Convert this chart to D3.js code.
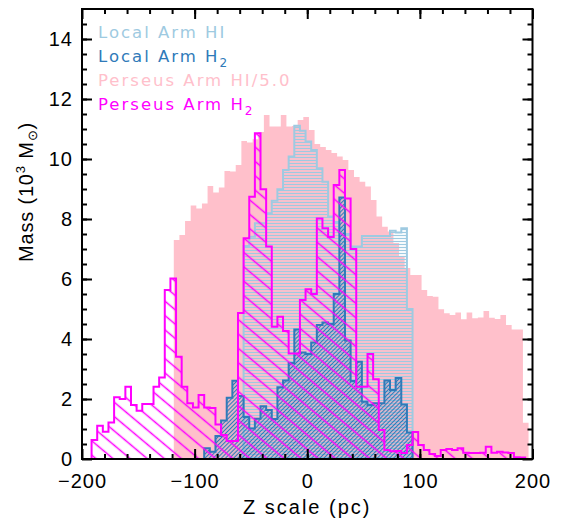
<!DOCTYPE html>
<html>
<head>
<meta charset="utf-8">
<script src="https://cdn.jsdelivr.net/npm/d3@7"></script>
<style>
body { margin: 0; background: #fff; }
text { font-family: "Liberation Sans", Arial, sans-serif; }
</style>
</head>
<body>
<div class="chart"></div>
<script>

// histogram bin width in pc; each series: left edge of first bin + bin values (10^3 Msun)
var binWidth = 5;

var perseusHIStart = -118.5;   // Perseus Arm HI / 5.0
var perseusHI = [7.3, 7.47, 7.93, 8.45, 8.35, 8.52, 9.1, 8.88, 9.05, 9.6,
  9.58, 9.8, 10.6, 10.55, 10.66, 10.9, 11.47, 11.08, 11.08, 11.47,
  11.08, 11.1, 11.3, 11.4, 10.97, 10.5, 10.4, 10.3, 10.2, 10.08,
  9.97, 9.63, 9.4, 9.24, 9.08, 8.63, 8.08, 7.74, 7.58, 7.2,
  6.75, 6.37, 6.13, 6.13, 5.63, 5.43, 5.41, 4.99, 4.86, 4.8,
  4.88, 4.66, 4.88, 4.69, 4.72, 4.93, 4.71, 4.67, 4.8, 4.47,
  4.32, 4.32, 1.21];

var localHIStart = -56.5;      // Local Arm HI
var localHI = [7.1, 7.41, 7.86, 7.86, 8.19, 8.61, 8.99, 9.63, 10.08, 11.11,
  10.94, 10.58, 10.3, 9.69, 9.24, 8.08, 7.9, 7.7, 7.5, 7.08,
  7.08, 7.43, 7.43, 7.43, 7.43, 7.43, 7.61, 7.55, 7.69, 5.0];

var localH2Start = -91.5;      // Local Arm H2
var localH2 = [0.36, 0.24, 0.77, 1.28, 2.04, 2.61, 2.1, 1.4, 1.02, 1.34,
  1.76, 1.63, 1.33, 2.39, 2.62, 3.2, 4.32, 3.55, 3.5, 3.88,
  4.47, 4.55, 4.5, 5.5, 8.72, 3.95, 2.6, 3.24, 1.91, 1.8,
  1.86, 1.86, 2.62, 2.3, 2.7, 1.82, 0.88];

var perseusH2Start = -191.5;   // Perseus Arm H2
var perseusH2 = [0.63, 1.11, 0.91, 1.22, 2.06, 2.0, 2.41, 1.8, 1.61, 1.83,
  1.83, 2.41, 2.72, 5.63, 6.02, 3.41, 2.41, 1.86, 1.72, 2.13,
  1.72, 1.7, 1.15, 0.8, 0.6, 0.6, 4.87, 7.36, 8.74, 10.86,
  8.99, 7.08, 4.41, 4.74, 4.27, 3.52, 3.52, 5.3, 5.66, 5.5,
  8.02, 7.69, 7.4, 9.13, 9.63, 8.68, 7.0, 2.41, 2.41, 3.5,
  2.66, 0.97, 0.3, 0.26, 0.27, 0.2, 0.47, 0.9, 0.47, 0.3,
  0.17, 0.1, 0.3, 0.33, 0.3, 0.36, 0.21, 0.2, 0.2, 0.21,
  0.41, 0.21, 0.24, 0.22, 0.2, 0.06, 0.05];

var xTicks = [-200, -100, 0, 100, 200];
var yTicks = [0, 2, 4, 6, 8, 10, 12, 14];

var legendItems = [
  {label: "Local Arm HI", sub: "", color: "#9ecae1"},
  {label: "Local Arm H", sub: "2", color: "#2f7ab9"},
  {label: "Perseus Arm HI/5.0", sub: "", color: "#ffc0cb"},
  {label: "Perseus Arm H", sub: "2", color: "#ff00ff"}
];

var svgWidth = 566;
var svgHeight = 520;

var margin = {top: 9, right: 33.5, bottom: 61, left: 82};
var width = svgWidth - margin.left - margin.right;
var height = svgHeight - margin.top - margin.bottom;

var svg = d3.select(".chart")
  .append("svg")
  .attr("width", svgWidth)
  .attr("height", svgHeight);

var chartGroup = svg.append("g")
  .attr("transform", `translate(${margin.left}, ${margin.top})`);

var x = d3.scaleLinear().domain([-200, 200]).range([0, width]);
var y = d3.scaleLinear().domain([0, 15]).range([height, 0]);

// fill patterns (line fills)
var defs = svg.append("defs");

defs.append("pattern")
  .attr("id", "hiLines")
  .attr("patternUnits", "userSpaceOnUse")
  .attr("width", 10).attr("height", 3)
  .append("line")
  .attr("x1", 0).attr("x2", 10).attr("y1", 1.5).attr("y2", 1.5)
  .attr("stroke", "#9ecae1").attr("stroke-width", 1.2);

defs.append("pattern")
  .attr("id", "h2Hatch")
  .attr("patternUnits", "userSpaceOnUse")
  .attr("width", 10).attr("height", 2.9)
  .attr("patternTransform", "rotate(-45)")
  .append("line")
  .attr("x1", 0).attr("x2", 10).attr("y1", 1.45).attr("y2", 1.45)
  .attr("stroke", "#2f7ab9").attr("stroke-width", 1.3);

defs.append("pattern")
  .attr("id", "perseusHatch")
  .attr("patternUnits", "userSpaceOnUse")
  .attr("width", 20).attr("height", 11)
  .attr("patternTransform", "rotate(40)")
  .append("line")
  .attr("x1", 0).attr("x2", 20).attr("y1", 5.5).attr("y2", 5.5)
  .attr("stroke", "#ff00ff").attr("stroke-width", 1.5);

// turn bins into a stepped outline
function histPoints(start, values) {
  var pts = [[start, 0]];
  values.forEach(function(v, i) {
    pts.push([start + i * binWidth, v]);
    pts.push([start + (i + 1) * binWidth, v]);
  });
  pts.push([start + values.length * binWidth, 0]);
  return pts;
}

var histLine = d3.line()
  .x(d => x(d[0]))
  .y(d => y(d[1]));

chartGroup.append("path")
  .attr("d", histLine(histPoints(perseusHIStart, perseusHI)) + "Z")
  .attr("fill", "#ffc0cb")
  .attr("stroke", "none");

chartGroup.append("path")
  .attr("d", histLine(histPoints(localHIStart, localHI)) + "Z")
  .attr("fill", "url(#hiLines)")
  .attr("stroke", "#9ecae1")
  .attr("stroke-width", 2);

chartGroup.append("path")
  .attr("d", histLine(histPoints(localH2Start, localH2)) + "Z")
  .attr("fill", "url(#h2Hatch)")
  .attr("stroke", "#2f7ab9")
  .attr("stroke-width", 2);

chartGroup.append("path")
  .attr("d", histLine(histPoints(perseusH2Start, perseusH2)) + "Z")
  .attr("fill", "url(#perseusHatch)")
  .attr("stroke", "#ff00ff")
  .attr("stroke-width", 2);

// axes: ticks point inward on all four sides
function styleAxis(g) {
  g.select(".domain").remove();
  g.selectAll("line").attr("stroke", "#000").attr("stroke-width", 2);
  g.selectAll("text")
    .style("font-family", "'Liberation Sans', Arial, sans-serif")
    .style("font-size", "20px")
    .style("letter-spacing", "1px")
    .attr("fill", "#000");
}

var minorX = d3.range(-180, 200, 20);
var minorY = d3.range(0.5, 15, 0.5);

chartGroup.append("g")
  .attr("transform", `translate(0, ${height})`)
  .call(d3.axisBottom(x).tickValues(xTicks).tickSizeInner(-10).tickSizeOuter(0).tickPadding(15))
  .call(styleAxis);

chartGroup.append("g")
  .attr("transform", `translate(0, ${height})`)
  .call(d3.axisBottom(x).tickValues(minorX).tickSizeInner(-5).tickSizeOuter(0).tickFormat(""))
  .call(styleAxis);

chartGroup.append("g")
  .call(d3.axisTop(x).tickValues(xTicks).tickSizeInner(-10).tickSizeOuter(0).tickFormat(""))
  .call(styleAxis);

chartGroup.append("g")
  .call(d3.axisTop(x).tickValues(minorX).tickSizeInner(-5).tickSizeOuter(0).tickFormat(""))
  .call(styleAxis);

chartGroup.append("g")
  .call(d3.axisLeft(y).tickValues(yTicks).tickSizeInner(-10).tickSizeOuter(0).tickPadding(9).tickFormat(d3.format("d")))
  .call(styleAxis);

chartGroup.append("g")
  .call(d3.axisLeft(y).tickValues(minorY).tickSizeInner(-5).tickSizeOuter(0).tickFormat(""))
  .call(styleAxis);

chartGroup.append("g")
  .attr("transform", `translate(${width}, 0)`)
  .call(d3.axisRight(y).tickValues(yTicks).tickSizeInner(-10).tickSizeOuter(0).tickFormat(""))
  .call(styleAxis);

chartGroup.append("g")
  .attr("transform", `translate(${width}, 0)`)
  .call(d3.axisRight(y).tickValues(minorY).tickSizeInner(-5).tickSizeOuter(0).tickFormat(""))
  .call(styleAxis);

// frame
chartGroup.append("rect")
  .attr("width", width)
  .attr("height", height)
  .attr("fill", "none")
  .attr("stroke", "#000")
  .attr("stroke-width", 2);

// axis titles
svg.append("text")
  .attr("x", margin.left + width / 2)
  .attr("y", 514)
  .attr("text-anchor", "middle")
  .style("font-size", "20px")
  .style("letter-spacing", "2px")
  .text("Z scale (pc)");

var yTitle = svg.append("text")
  .attr("transform", "translate(33, 192) rotate(-90)")
  .attr("text-anchor", "middle")
  .style("font-size", "20px")
  .style("letter-spacing", "0.8px");
yTitle.append("tspan").text("Mass (10");
yTitle.append("tspan").attr("dy", -8).style("font-size", "13px").text("3");
yTitle.append("tspan").attr("dy", 8).text(" M");
yTitle.append("tspan").attr("dy", 4).style("font-size", "13px").text("\u2299");
yTitle.append("tspan").attr("dy", -4).text(")");

// legend
var legend = svg.append("g");
legendItems.forEach(function(item, i) {
  var t = legend.append("text")
    .attr("x", 98)
    .attr("y", 38 + i * 24)
    .attr("fill", item.color)
    .style("font-family", "'DejaVu Sans', sans-serif")
    .style("font-size", "16.5px")
    .style("letter-spacing", "2px");
  t.append("tspan").text(item.label);
  if (item.sub) {
    t.append("tspan").attr("dy", 5).style("font-size", "12px").text(item.sub);
  }
});

</script>
</body>
</html>
